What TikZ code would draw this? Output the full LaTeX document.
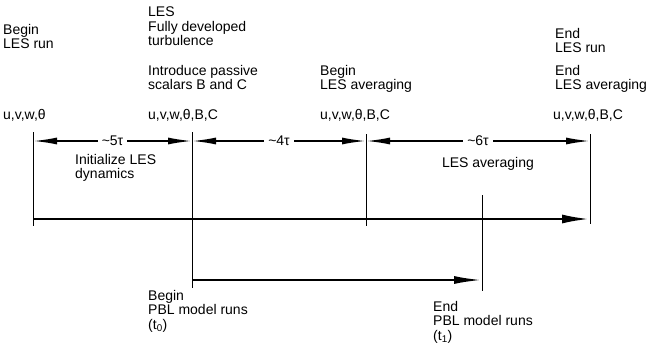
\documentclass[tikz,border=0pt]{standalone}
\usepackage{fontspec}
\setmainfont{Liberation Sans}
\usetikzlibrary{arrows.meta, positioning}
\tikzset{
    timeline/.style={x=1pt, y=-1pt, font=\fontsize{14}{14.5}\selectfont},
    tick/.style={line width=0.9pt},
    span/.style={line width=1.7pt, {Latex[length=24pt,width=7pt]}-{Latex[length=24pt,width=7pt]}},
    lesrun/.style={line width=2.6pt, -{Latex[length=28pt,width=9pt]}},
    pblrun/.style={line width=2.2pt, -{Latex[length=28pt,width=8pt]}},
    txt/.style={anchor=north west, align=left, inner sep=0pt},
    gap/.style={fill=white, inner sep=4pt},
}

\begin{document}
\begin{tikzpicture}[timeline]
    \useasboundingbox (0,0) rectangle (654,348);

    % ticks at the events
    \draw[tick] (33,132) -- (33,226);
    \draw[tick] (192,132) -- (192,288);
    \draw[tick] (366,134) -- (366,226);
    \draw[tick] (482,195) -- (482,291);
    \draw[tick] (590,134) -- (590,224);

    \coordinate (s0) at (33,141);
    \coordinate (s1) at (192,141);
    \coordinate (s2) at (366,141);
    \coordinate (s3) at (590,141);
    \coordinate (r0) at (33,219);
    \coordinate (r1) at (590,219);
    \coordinate (p0) at (192,280);
    \coordinate (p1) at (482,280);

    % texts above the line
    \node[txt] (lesbegin)  at (3,24)    {Begin\\LES run};
    \node[txt] (lesfull)   at (148,7)   {LES\\Fully developed\\turbulence};
    \node[txt] (scalars)   at (148,65)  {Introduce passive\\scalars B and C};
    \node[txt] (avgbegin)  at (320,65)  {Begin\\LES averaging};
    \node[txt] (lesend)    at (555,28)  {End\\LES run};
    \node[txt] (avgend)    at (555,65)  {End\\LES averaging};
    \node[txt] (vars0)     at (3,109)   {u,v,w,θ};
    \node[txt] (vars1)     at (148,109) {u,v,w,θ,B,C};
    \node[txt] (vars2)     at (320,109) {u,v,w,θ,B,C};
    \node[txt] (vars3)     at (553,109) {u,v,w,θ,B,C};

    \node[txt] (init)      at (75,154)  {Initialize LES\\dynamics};
    \node[inner sep=0pt] (avg) at (488,164) {LES averaging};

    % texts below the line
    \node[txt] (pblbegin)  at (148,290) {Begin\\PBL model runs\\(t\textsubscript{0})};
    \node[txt] (pblend)    at (433,301) {End\\PBL model runs\\(t\textsubscript{1})};

    \draw[span] (s0) -- node[gap] {\textasciitilde 5τ} (s1);
    \draw[span] (s1) -- node[gap] {\textasciitilde 4τ} (s2);
    \draw[span] (s2) -- node[gap] {\textasciitilde 6τ} (s3);
    \draw[lesrun] (r0) -- (r1);
    \draw[pblrun] (p0) -- (p1);
\end{tikzpicture}
\end{document}
